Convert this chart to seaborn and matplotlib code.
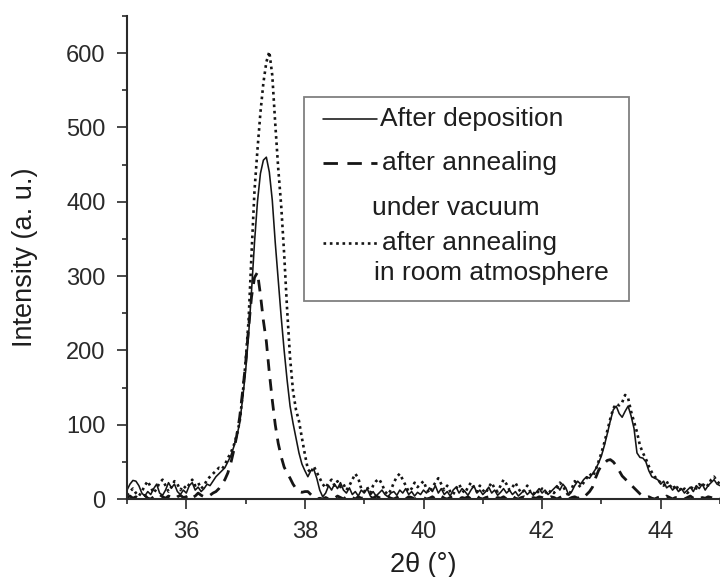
import numpy as np
import pandas as pd
import matplotlib
matplotlib.use("Agg")
import matplotlib.pyplot as plt
from matplotlib.lines import Line2D
from matplotlib.patches import Rectangle
import seaborn as sns

# 2-theta scan grid (0.05 deg steps, 35-45 deg)
two_theta = np.round(np.linspace(35.0, 45.0, 201), 2)

# After deposition
after_deposition = [
    12, 20, 25, 24, 18, 8, 4, 10, 6, 14, 20, 8, 5, 12, 22, 15, 20, 10, 6, 12,
    8, 18, 22, 12, 16, 10, 14, 20, 18, 24, 30, 34, 38, 42, 50, 58, 70, 84, 102, 135,
    172, 220, 280, 345, 400, 438, 456, 460, 440, 402, 345, 295, 245, 200, 160, 125, 102, 82, 62, 47,
    38, 30, 38, 40, 28, 12, 3, 8, 18, 12, 20, 14, 22, 12, 8, 15, 6, 10, 4, 12,
    8, 14, 5, 10, 4, 8, 12, 6, 3, 8, 10, 5, 12, 8, 14, 6, 10, 4, 9, 6,
    12, 8, 15, 10, 18, 8, 14, 6, 10, 4, 12, 16, 8, 14, 10, 5, 12, 18, 8, 12,
    6, 10, 16, 8, 12, 5, 9, 14, 8, 12, 6, 10, 4, 8, 12, 6, 10, 5, 9, 14,
    8, 12, 6, 10, 14, 18, 12, 20, 15, 5, 10, 18, 24, 20, 26, 30, 28, 34, 40, 48,
    58, 72, 88, 105, 120, 125, 115, 110, 118, 125, 112, 95, 62, 56, 55, 50, 38, 30, 28, 26,
    20, 24, 15, 18, 12, 16, 10, 14, 8, 12, 16, 10, 18, 14, 20, 12, 18, 22, 26, 20,
    18,
]

# After annealing under vacuum
annealed_vacuum = [
    2, 4, 1, 3, 0, 2, 5, 1, 0, 3, 2, 6, 3, 1, 4, 2, 0, 3, 5, 2,
    3, 6, 2, 4, 8, 5, 3, 6, 5, 8, 10, 14, 20, 26, 35, 48, 65, 85, 110, 145,
    182, 230, 272, 298, 305, 275, 240, 212, 170, 133, 100, 75, 57, 43, 35, 28, 20, 14, 10, 9,
    10, 10, 6, 2, 0, 1, 0, 2, 0, 3, 1, 4, 2, 0, 3, 5, 2, 0, 3, 1,
    2, 0, 3, 1, 4, 2, 0, 2, 3, 1, 0, 2, 4, 1, 0, 3, 2, 0, 1, 3,
    2, 0, 1, 3, 0, 2, 4, 1, 0, 2, 3, 1, 0, 2, 1, 3, 0, 2, 4, 1,
    0, 2, 3, 1, 0, 2, 1, 3, 0, 2, 4, 1, 0, 2, 3, 1, 0, 2, 1, 3,
    2, 0, 1, 3, 2, 0, 2, 4, 1, 0, 2, 3, 1, 4, 2, 6, 10, 16, 28, 38,
    45, 48, 52, 53, 50, 45, 38, 31, 27, 23, 19, 15, 11, 7, 4, 2, 3, 1, 0, 2,
    3, 1, 4, 2, 0, 2, 1, 3, 0, 2, 4, 1, 3, 0, 2, 1, 3, 2, 0, 2,
    1,
]

# After annealing in room atmosphere
annealed_air = [
    5, 10, 14, 8, 4, 10, 18, 24, 16, 8, 14, 22, 26, 18, 10, 16, 24, 20, 12, 18,
    14, 20, 26, 18, 22, 14, 18, 26, 30, 34, 38, 42, 40, 46, 55, 62, 72, 86, 104, 140,
    185, 240, 330, 415, 470, 520, 560, 588, 602, 570, 505, 445, 395, 330, 255, 190, 145, 120, 105, 82,
    60, 40, 35, 44, 36, 28, 20, 15, 22, 26, 18, 24, 16, 20, 12, 18, 26, 34, 28, 14,
    10, 16, 8, 18, 24, 27, 20, 10, 6, 12, 22, 30, 34, 26, 18, 10, 14, 22, 16, 20,
    24, 14, 8, 16, 22, 28, 20, 12, 18, 10, 6, 14, 20, 12, 8, 16, 22, 14, 10, 18,
    12, 8, 16, 22, 14, 10, 18, 26, 20, 12, 16, 22, 14, 8, 12, 18, 10, 6, 12, 8,
    14, 10, 6, 12, 8, 14, 22, 18, 10, 4, 14, 24, 20, 16, 22, 28, 34, 30, 38, 50,
    62, 76, 92, 108, 122, 128, 126, 130, 140, 136, 118, 104, 90, 72, 62, 54, 44, 36, 30, 26,
    22, 18, 24, 16, 20, 12, 18, 10, 14, 8, 12, 18, 14, 20, 16, 22, 18, 26, 30, 24,
    20,
]

series_labels = ["After deposition", "after annealing under vacuum",
                 "after annealing in room atmosphere"]

df = pd.DataFrame({
    "two_theta": np.tile(two_theta, 3),
    "intensity": np.concatenate([after_deposition, annealed_vacuum, annealed_air]),
    "sample": np.repeat(series_labels, len(two_theta)),
})

sns.set_style("ticks")
plt.rcParams["font.family"] = ["Liberation Sans", "DejaVu Sans"]
plt.rcParams["text.color"] = "#1e1e1e"
plt.rcParams["axes.labelcolor"] = "#1e1e1e"
plt.rcParams["xtick.color"] = "#2a2a2a"
plt.rcParams["ytick.color"] = "#2a2a2a"

W, H = 720, 577
fig = plt.figure(figsize=(W / 100, H / 100), dpi=100)
ax = fig.add_axes([127 / W, 1 - 499 / H, (W - 127) / W, (499 - 16) / H])

ink = "#151515"
styles = {
    "After deposition": dict(linestyle="-", linewidth=1.15),
    "after annealing under vacuum": dict(linestyle=(0, (4.2, 3.0)), linewidth=2.0),
    "after annealing in room atmosphere": dict(linestyle=(0, (1.0, 1.4)), linewidth=1.9),
}
for name in series_labels:
    sub = df[df["sample"] == name]
    sns.lineplot(data=sub, x="two_theta", y="intensity", ax=ax, color=ink,
                 legend=False, **styles[name])

ax.set_xlim(35, 45)
ax.set_ylim(0, 650)
ax.set_xticks([36, 38, 40, 42, 44])
ax.set_xticks([35, 37, 39, 41, 43, 45], minor=True)
ax.set_yticks([0, 100, 200, 300, 400, 500, 600])
ax.set_yticks([50, 150, 250, 350, 450, 550, 650], minor=True)
ax.tick_params(which="major", length=7.5, width=1.2, pad=8, labelsize=17)
ax.tick_params(which="minor", length=3.8, width=1.2)
for side in ["top", "right"]:
    ax.spines[side].set_visible(False)
for side in ["left", "bottom"]:
    ax.spines[side].set_linewidth(1.5)
    ax.spines[side].set_color("#2a2a2a")

ax.set_xlabel("2\u03b8 (\u00b0)", fontsize=19.5, labelpad=7)
ax.set_ylabel("Intensity (a. u.)", fontsize=19.5, labelpad=20)


def fx(x):
    return x / W


def fy(y):
    return 1 - y / H


# legend box
fig.patches.append(Rectangle((fx(304), fy(301)), fx(629) - fx(304), fy(97) - fy(301),
                             transform=fig.transFigure, fill=True, facecolor="white",
                             edgecolor="#808080", linewidth=1.3, zorder=5))

legend_rows = [
    (119, "After deposition", 380, "After deposition"),
    (163, "after annealing", 382, "after annealing under vacuum"),
    (208, "under vacuum", 372, None),
    (243, "after annealing", 382, "after annealing in room atmosphere"),
    (273, "in room atmosphere", 374, None),
]
legend_dash = {"after annealing under vacuum": (0, (5.2, 3.4))}
for y, text, tx, key in legend_rows:
    if key is not None:
        st = dict(styles[key])
        if key in legend_dash:
            st["linestyle"] = legend_dash[key]
        fig.lines.append(Line2D([fx(323), fx(377)], [fy(y), fy(y)], transform=fig.transFigure,
                                color=ink, zorder=6, **st))
    fig.text(fx(tx), fy(y), text, fontsize=19, va="center", ha="left", zorder=6)

fig.savefig("out.png", dpi=100)
